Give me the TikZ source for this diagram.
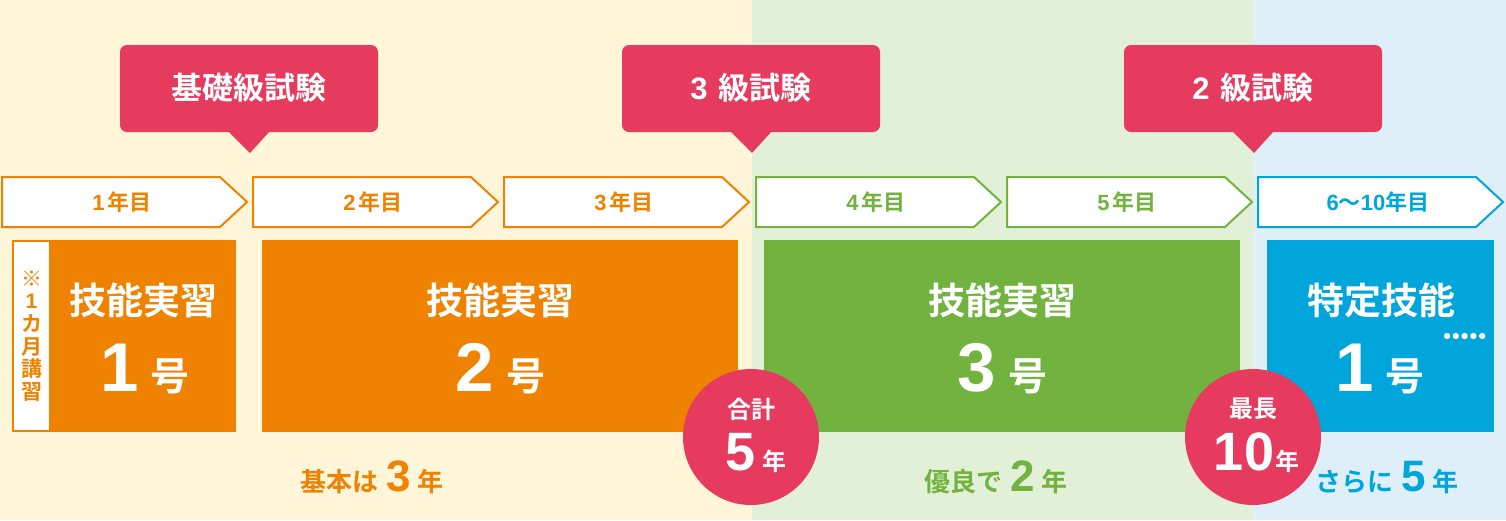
\documentclass[tikz,border=0pt]{standalone}
\usepackage{fontspec}
\setmainfont{Noto Sans CJK JP}[BoldFont={Noto Sans CJK JP Bold}]
\newfontfamily\jp{Noto Sans CJK JP Bold}
\newfontfamily\dg{Liberation Sans Bold}
\definecolor{cOr}{HTML}{EF8200}
\definecolor{cGr}{HTML}{72B340}
\definecolor{cBl}{HTML}{00A6DB}
\definecolor{cRd}{HTML}{E63A5E}
\definecolor{bgOr}{HTML}{FFF5D8}
\definecolor{bgGr}{HTML}{E3F0D8}
\definecolor{bgBl}{HTML}{DEEFF9}
\tikzset{
  yr/.style={font=\jp\fontsize{22}{22}\selectfont, inner sep=0pt},
  bigt/.style={font=\jp\fontsize{37}{37}\selectfont, text=white, inner sep=0pt},
  num/.style={font=\dg\fontsize{69}{69}\selectfont, text=white, inner sep=0pt},
  gou/.style={font=\jp\fontsize{39}{39}\selectfont, text=white, anchor=base, inner sep=0pt},
  callt/.style={font=\jp\fontsize{31}{31}\selectfont, text=white, inner sep=0pt},
  circt/.style={font=\jp\fontsize{24}{24}\selectfont, text=white, inner sep=0pt},
  circn/.style={font=\dg\fontsize{54}{54}\selectfont, text=white, anchor=base, inner sep=0pt},
  bott/.style={font=\jp\fontsize{26}{26}\selectfont, inner sep=0pt},
}
\newcommand{\bign}[1]{{\dg\fontsize{44}{44}\selectfont #1}}
\newcommand{\chev}[3]{% x, color, name
  \draw[#2, line width=2pt, fill=white] (#1,177) -- (#1+218,177) -- (#1+245,202) -- (#1+218,227) -- (#1,227) -- cycle;
  \coordinate (#3) at (#1+120,202);
}
\newcommand{\callout}[2]{% center x, name
  \fill[cRd, rounded corners=7pt] (#1-130,45) rectangle (#1+128,132);
  \fill[cRd] (#1-22,131) -- (#1+20,131) -- (#1,153) -- cycle;
  \coordinate (#2) at (#1-1,88);
}
\begin{document}
\begin{tikzpicture}[x=1pt,y=-1pt]
\useasboundingbox (0,0) rectangle (1506,520);
% backgrounds
\fill[bgOr] (0,0) rectangle (752,520);
\fill[bgGr] (752,0) rectangle (1253,520);
\fill[bgBl] (1253,0) rectangle (1506,520);
% callouts
\callout{250}{c1}
\callout{752}{c2}
\callout{1254}{c3}
\node[callt] at (c1) {基礎級試験};
\node[callt] at (c2) {{\dg 3}\hspace{11pt}級試験};
\node[callt] at (c3) {{\dg 2}\hspace{11pt}級試験};
% chevrons
\chev{2}{cOr}{y1}
\chev{253}{cOr}{y2}
\chev{504}{cOr}{y3}
\chev{756}{cGr}{y4}
\chev{1007}{cGr}{y5}
\chev{1258}{cBl}{y6}
\node[yr, text=cOr] at (y1) {{\dg 1}\hspace{3pt}年目};
\node[yr, text=cOr] at (y2) {{\dg 2}\hspace{3pt}年目};
\node[yr, text=cOr] at (y3) {{\dg 3}\hspace{3pt}年目};
\node[yr, text=cGr] at (y4) {{\dg 4}\hspace{3pt}年目};
\node[yr, text=cGr] at (y5) {{\dg 5}\hspace{3pt}年目};
\node[yr, text=cBl] at (y6) {{\dg 6}〜{\dg 10}年目};
% boxes
\fill[cOr] (12,240) rectangle (236,432);
\fill[white] (14,242) rectangle (49,430);
\node[font=\jp\fontsize{21}{22.6}\selectfont, text=cOr, align=center, inner sep=0pt] (note) at (31.5,336) {※\\{\dg 1}\\カ\\月\\講\\習};
\fill[cOr] (262,240) rectangle (738,432);
\fill[cGr] (764,240) rectangle (1240,432);
\fill[cBl] (1267,240) rectangle (1494,432);
\node[bigt] (t1) at (143,300) {技能実習};
\node[bigt] (t2) at (500,300) {技能実習};
\node[bigt] (t3) at (1002,300) {技能実習};
\node[bigt] (t4) at (1381,300) {特定技能};
\node[num, anchor=base] (n1) at (120,391) {1};
\node[gou] (g1) at (170,390) {号};
\node[num, anchor=base] (n2) at (475,391) {2};
\node[gou] (g2) at (526,390) {号};
\node[num, anchor=base] (n3) at (977,391) {3};
\node[gou] (g3) at (1028,390) {号};
\node[num, anchor=base] (n4) at (1355,391) {1};
\node[gou] (g4) at (1405,390) {号};
\foreach \i in {0,...,4} \fill[white] (1447+\i*8.8,336) circle (3.2pt);
% circles
\fill[cRd] (751,437) circle (68pt);
\fill[cRd] (1253,437) circle (68pt);
\node[circt] (k1) at (751,409) {合計};
\node[circn] (k1n) at (741,470) {5};
\node[circt, anchor=base] (k1y) at (774,470) {年};
\node[circt] (k2) at (1253,409) {最長};
\node[circn] (k2n) at (1244,470) {10};
\node[circt, anchor=base] (k2y) at (1287,470) {年};
% bottom texts
\node[bott, text=cOr, anchor=base] (b1) at (372,491) {基本は\hspace{8pt}\bign{3}\hspace{6pt}年};
\node[bott, text=cGr, anchor=base] (b2) at (996,491) {優良で\hspace{8pt}\bign{2}\hspace{6pt}年};
\node[bott, text=cBl, anchor=base] (b3) at (1387,491) {さらに\hspace{8pt}\bign{5}\hspace{6pt}年};
\end{tikzpicture}
\end{document}
